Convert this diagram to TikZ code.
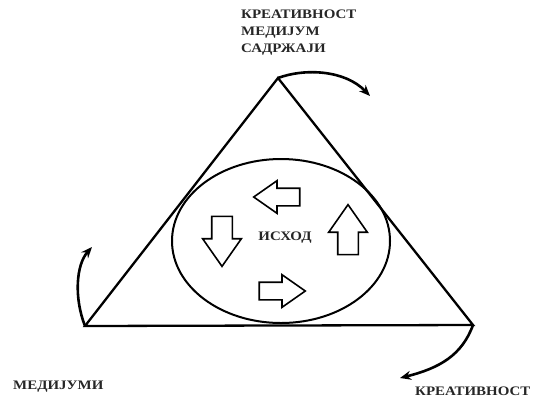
\documentclass[tikz,border=0pt]{standalone}
\usepackage{fontspec}
\setmainfont{Liberation Serif}[FakeStretch=1.15]
\usetikzlibrary{shapes.arrows,shapes.geometric,arrows.meta}
\begin{document}
\begin{tikzpicture}[x=1pt,y=-1pt,
  edge/.style={line width=2.3pt, line join=miter},
  curvy/.style={line width=2.6pt, -{Stealth[length=11pt,width=9pt]}},
  blk/.style={draw, line width=1.6pt, single arrow, minimum height=46pt,
    inner xsep=0pt, inner ysep=8pt, single arrow head extend=7.5pt,
    single arrow tip angle=70, single arrow head indent=0pt},
  blkv/.style={blk, minimum height=50pt, inner ysep=9.5pt, single arrow head extend=9pt},
  lbl/.style={font=\bfseries\fontsize{13}{17}\selectfont, align=left, inner sep=0pt, text=black!85}]
\useasboundingbox (0,0) rectangle (534,397);
% triangle vertices
\coordinate (A) at (278,78);
\coordinate (L) at (85,326);
\coordinate (R) at (473,325);
\draw[edge] (A) -- (L) -- (R) -- cycle;
% ellipse
\node[draw, line width=2pt, ellipse, minimum width=218pt, minimum height=164pt, inner sep=0pt] (E) at (281,241) {};
% block arrows
\node[blk, rotate=180] (aL) at (283,197) {};
\node[blkv, rotate=-90] (aD) at (222,234) {};
\node[blkv, rotate=90] (aU) at (348,237) {};
\node[blk] (aR) at (276,291) {};
\node[lbl] (out) at (285,238) {ИСХОД};
% labels
\node[lbl, anchor=north west] (top) at (241,10) {КРЕАТИВНОСТ\\МЕДИЈУМ\\САДРЖАЈИ};
\node[lbl, anchor=west] (bl) at (13,387) {МЕДИЈУМИ};
\node[lbl, anchor=west] (br) at (415,391) {КРЕАТИВНОСТ};
% curved arrows
\coordinate (tA) at (370,96);
\coordinate (tL) at (92,247);
\coordinate (tR) at (400,378);
\draw[curvy] (A) .. controls (305,68) and (345,70) .. (tA);
\draw[curvy] (L) .. controls (74,298) and (76,265) .. (tL);
\draw[curvy] (R) .. controls (462,355) and (440,368) .. (tR);
\end{tikzpicture}
\end{document}
